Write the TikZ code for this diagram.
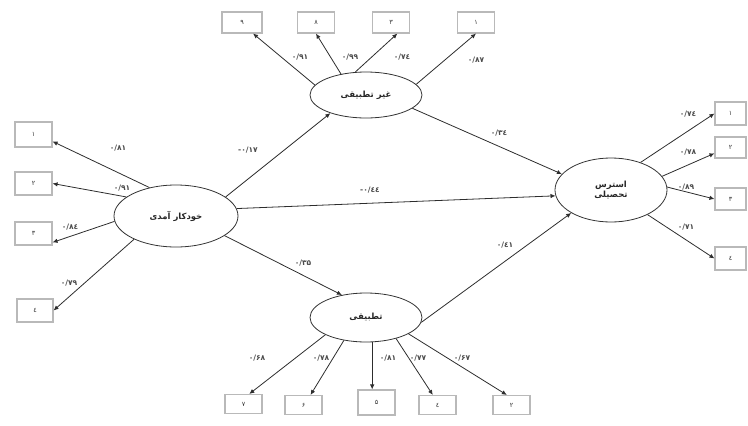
\documentclass[tikz,border=0pt]{standalone}
\usepackage{fontspec}
\newfontfamily\fa[Script=Arabic]{DejaVu Sans}
\TeXXeTstate=1
\usetikzlibrary{shapes.geometric,arrows.meta}
\begin{document}
\begin{tikzpicture}[x=1pt,y=-1pt,
 latent/.style={ellipse,draw=gray!40!black,line width=0.8pt,minimum width=112pt,minimum height=46pt,inner sep=0pt,font=\fa\bfseries\fontsize{8.5}{11}\selectfont,align=center,text=black!85},
 ind/.style={rectangle,draw=gray!55,line width=1.1pt,minimum width=37pt,minimum height=21pt,inner sep=0pt,fill=white,font=\fa\fontsize{6.5}{7}\selectfont,text=black!80},
 conn/.style={draw=gray!35!black,line width=0.8pt,-{Latex[length=5pt,width=4.5pt]}},
 lab/.style={font=\fa\bfseries\fontsize{7.5}{8}\selectfont,inner sep=1pt,text=black!70}]
\useasboundingbox (0,0) rectangle (748,426);
% latent variables
\node[latent] (NA) at (366,95) {\beginR غیر تطبیقی\endR};
\node[latent,minimum width=124pt,minimum height=62pt] (SE) at (176,216) {\beginR خودکار آمدی\endR};
\node[latent,minimum height=64pt] (ST) at (611,190) {\beginR استرس\endR\\[-1pt]\beginR تحصیلی\endR};
\node[latent,minimum height=49pt] (AD) at (366,317.5) {\beginR تطبیقی\endR};
% top indicators
\node[ind,minimum width=40pt] (b9) at (242,22.5) {۹};
\node[ind] (b8) at (316,22.5) {۸};
\node[ind] (b3) at (391,22.5) {۳};
\node[ind] (b1) at (476,22.5) {۱};
% left indicators
\node[ind,minimum height=25pt] (L1) at (33.5,134.5) {۱};
\node[ind,minimum height=23pt] (L2) at (33.5,183.5) {۲};
\node[ind,minimum height=23pt] (L3) at (33.5,233.5) {۳};
\node[ind,minimum width=36pt,minimum height=23pt] (L4) at (35,310.5) {٤};
% right indicators
\node[ind,minimum width=31pt,minimum height=23pt] (R1) at (730.5,113.5) {۱};
\node[ind,minimum width=31pt,minimum height=21pt] (R2) at (730.5,147.5) {۲};
\node[ind,minimum width=31pt,minimum height=22pt] (R3) at (730.5,199) {۳};
\node[ind,minimum width=31pt,minimum height=23pt] (R4) at (730.5,258.5) {٤};
% bottom indicators
\node[ind,minimum height=19pt] (B7) at (243.5,404) {۷};
\node[ind,minimum height=19pt] (B6) at (303.5,405) {۶};
\node[ind,minimum height=25pt] (B5) at (376.5,402.5) {۵};
\node[ind,minimum height=19pt] (B4) at (437.5,405) {٤};
\node[ind,minimum height=19pt] (B2) at (511.5,405) {۲};
% measurement arrows
\draw[conn] (NA.169.6) -- (b9.-45);
\draw[conn] (NA.140.4) -- (b8.south);
\draw[conn] (NA.115.4) -- (b3.-60);
\draw[conn] (NA.12.8) -- (b1.south);
\draw[conn] (SE.133) -- (L1.-20);
\draw[conn] (SE.159.6) -- (L2.east);
\draw[conn] (SE.185) -- (L3.-25);
\draw[conn] (SE.209) -- (L4.east);
\draw[conn] (ST.43) -- (R1.west);
\draw[conn] (ST.15.5) -- (R2.-160);
\draw[conn] (ST.3) -- (R3.west);
\draw[conn] (ST.-34) -- (R4.west);
\draw[conn] (AD.203.9) -- (B7.60);
\draw[conn] (AD.226) -- (B6.55);
\draw[conn] (AD.-76) -- (AD.-76 |- B5.north);
\draw[conn] (AD.-35) -- (B4.115);
\draw[conn] (AD.-21.7) -- (B2.115);
% structural paths
\draw[conn] (SE.21) -- (NA.207);
\draw[conn] (SE.7) -- (ST.186);
\draw[conn] (NA.-16.5) -- (ST.162);
\draw[conn] (SE.-22) -- (AD.137);
\draw[conn] (AD.-5) -- (ST.210);
% loading labels
\node[lab] (t1) at (300,57) {۰/۹۱};
\node[lab] (t2) at (350,57) {۰/۹۹};
\node[lab] (t3) at (402,57) {\hbox{۰/۷}\hbox{٤}};
\node[lab] (t4) at (476,60) {۰/۸۷};
\node[lab] (l1) at (118,148) {۰/۸۱};
\node[lab] (l2) at (122,188) {۰/۹۱};
\node[lab] (l3) at (70,227) {\hbox{۰/۸}\hbox{٤}};
\node[lab] (l4) at (69,283) {۰/۷۹};
\node[lab] (r1) at (688,114) {\hbox{۰/۷}\hbox{٤}};
\node[lab] (r2) at (688,152) {۰/۷۸};
\node[lab] (r3) at (686,187) {۰/۸۹};
\node[lab] (r4) at (686,227) {۰/۷۱};
\node[lab] (d1) at (257,358) {۰/۶۸};
\node[lab] (d2) at (321,358) {۰/۷۸};
\node[lab] (d3) at (388,358) {۰/۸۱};
\node[lab] (d4) at (418,358) {۰/۷۷};
\node[lab] (d5) at (462,358) {۰/۶۷};
% path labels
\node[lab] (p1) at (248,150) {\hbox{-}\hbox{۰}\hbox{/}\hbox{۱۷}};
\node[lab] (p2) at (370,190) {\hbox{-}\hbox{۰}\hbox{/}\hbox{٤٤}};
\node[lab] (p3) at (499,133) {\hbox{۰/۳}\hbox{٤}};
\node[lab] (p4) at (303,263) {۰/۳۵};
\node[lab] (p5) at (505,245) {\hbox{۰}\hbox{/}\hbox{٤۱}};
\end{tikzpicture}
\end{document}
